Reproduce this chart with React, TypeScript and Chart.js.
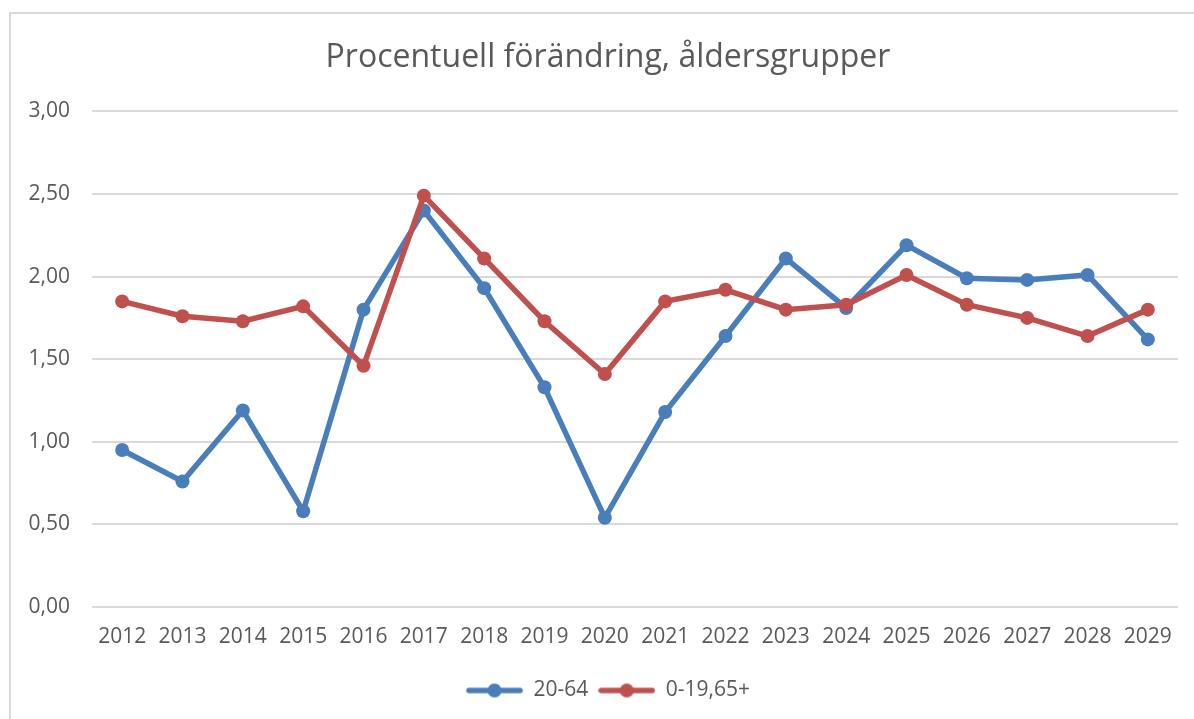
import React, { useEffect, useRef } from "react";
import { Chart, registerables } from "chart.js";

Chart.register(...registerables);

const years = ["2012","2013","2014","2015","2016","2017","2018","2019","2020","2021","2022","2023","2024","2025","2026","2027","2028","2029"];
const series2064 = [0.95, 0.76, 1.19, 0.58, 1.80, 2.40, 1.93, 1.33, 0.54, 1.18, 1.64, 2.11, 1.81, 2.19, 1.99, 1.98, 2.01, 1.62];
const seriesOther = [1.85, 1.76, 1.73, 1.82, 1.46, 2.49, 2.11, 1.73, 1.41, 1.85, 1.92, 1.80, 1.83, 2.01, 1.83, 1.75, 1.64, 1.80];
const seriesLabels = ["20-64", "0-19,65+"];
const titleText = "Procentuell förändring, åldersgrupper";

const BLUE = "#4a7ebb";
const RED = "#c0504d";
const TEXT = "#595959";
const GRID = "#d9d9d9";
const FONT = "'Open Sans', 'DejaVu Sans', sans-serif";

function legendImage(color: string): HTMLCanvasElement {
  const c = document.createElement("canvas");
  c.width = 57;
  c.height = 16;
  const ctx = c.getContext("2d")!;
  ctx.strokeStyle = color;
  ctx.lineWidth = 5.5;
  ctx.lineCap = "round";
  ctx.beginPath();
  ctx.moveTo(3, 8);
  ctx.lineTo(54, 8);
  ctx.stroke();
  ctx.fillStyle = color;
  ctx.beginPath();
  ctx.arc(28.5, 8, 7, 0, Math.PI * 2);
  ctx.fill();
  return c;
}

export default function App() {
  const ref = useRef<HTMLCanvasElement | null>(null);

  useEffect(() => {
    if (!ref.current) return;
    const colors = [BLUE, RED];
    const imgs = colors.map(legendImage);
    const chart = new Chart(ref.current, {
      type: "line",
      data: {
        labels: years,
        datasets: [
          {
            label: seriesLabels[0],
            data: series2064,
            borderColor: BLUE,
            backgroundColor: BLUE,
            pointBackgroundColor: BLUE,
            pointBorderWidth: 0,
            pointRadius: 7,
            borderWidth: 5.5,
            tension: 0,
            order: 1,
          },
          {
            label: seriesLabels[1],
            data: seriesOther,
            borderColor: RED,
            backgroundColor: RED,
            pointBackgroundColor: RED,
            pointBorderWidth: 0,
            pointRadius: 7,
            borderWidth: 5.5,
            tension: 0,
            order: 0,
          },
        ],
      },
      options: {
        responsive: false,
        animation: false,
        layout: { padding: { left: 0, right: 0, top: 0, bottom: 8 } },
        plugins: {
          tooltip: { enabled: false },
          title: {
            display: true,
            text: titleText,
            color: TEXT,
            font: { family: FONT, size: 32, weight: "normal" },
            padding: { top: 39, bottom: 34 },
          },
          legend: {
            position: "bottom",
            labels: {
              color: TEXT,
              font: { family: FONT, size: 21 },
              usePointStyle: true,
              pointStyleWidth: 57,
              padding: 10,
              sort: (a: any, b: any) => a.datasetIndex - b.datasetIndex,
              generateLabels: (ch: any) => {
                const items = Chart.defaults.plugins.legend.labels.generateLabels(ch);
                return items.map((it: any, i: number) => ({ ...it, pointStyle: imgs[it.datasetIndex ?? i] }));
              },
            },
          },
        },
        scales: {
          x: {
            offset: true,
            grid: { display: false, drawTicks: false, offset: true },
            border: { display: false },
            ticks: { color: TEXT, font: { family: FONT, size: 21 }, padding: 17, maxRotation: 0, autoSkip: false },
            afterFit: (s: any) => { s.height = 63; },
          },
          y: {
            min: 0,
            max: 3,
            grid: { color: GRID, lineWidth: 2, drawTicks: false },
            border: { display: false },
            ticks: {
              stepSize: 0.5,
              color: TEXT,
              font: { family: FONT, size: 21 },
              padding: 22,
              callback: (v: any) => Number(v).toFixed(2).replace(".", ","),
            },
            afterFit: (s: any) => { s.width = 92; },
          },
          yRight: {
            position: "right",
            display: true,
            min: 0,
            max: 3,
            grid: { display: false, drawTicks: false },
            border: { display: false },
            ticks: { display: false },
            afterFit: (s: any) => { s.width = 38; },
          },
        },
      },
    });
    return () => chart.destroy();
  }, []);

  return (
    <div style={{ position: "fixed", left: 0, top: 0, width: 1194, height: 719, overflow: "hidden", background: "#fff" }}>
      <div style={{ position: "absolute", left: 9, top: 12, width: 1300, height: 800, borderTop: "2px solid #d9d9d9", borderLeft: "2px solid #d9d9d9" }} />
      <canvas ref={ref} width={1216} height={719} style={{ position: "absolute", left: 0, top: 0 }} />
    </div>
  );
}
